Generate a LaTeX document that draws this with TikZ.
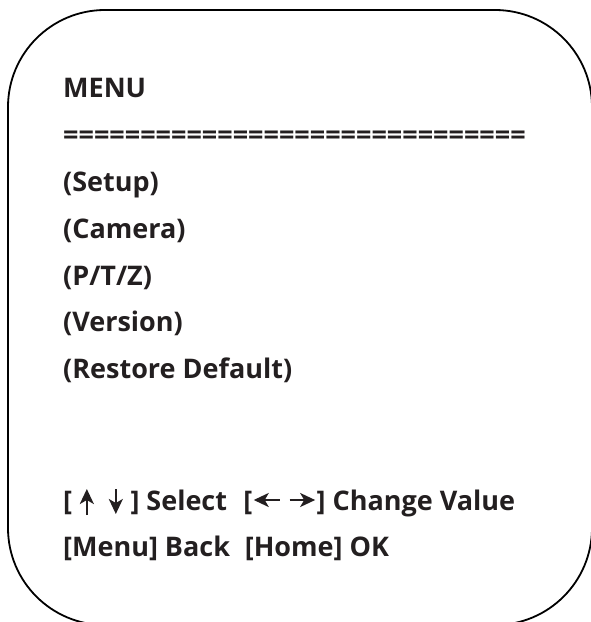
\documentclass[tikz,border=0pt]{standalone}
\usepackage{fontspec}
\setmainfont{Open Sans}
\usetikzlibrary{calc,arrows.meta}
\definecolor{ink}{HTML}{231F20}
\tikzset{
  menutext/.style={anchor=base west, inner sep=0pt, text=ink,
    font=\fontsize{27}{31}\selectfont\bfseries},
  keyarrow/.style={draw=ink, line width=2.2pt,
    -{Stealth[length=15pt,width=14pt,inset=4pt]}}
}
\begin{document}
\begin{tikzpicture}[x=1pt,y=-1pt]
  \useasboundingbox (0,0) rectangle (591,622);
  \clip (0,0) rectangle (591,622);
  % screen frame
  \draw[line width=1.8pt, rounded corners=97pt] (8,10) rectangle (592,625);
  % menu entries
  \node[menutext] (title) at (63,97) {MENU};
  \node[menutext] (rule) at (63,144) {==============================};
  \node[menutext] (setup) at (63,191.5) {(Setup)};
  \node[menutext] (camera) at (63,238) {(Camera)};
  \node[menutext] (ptz) at (63,285) {(P/T/Z)};
  \node[menutext] (version) at (63,331.5) {(Version)};
  \node[menutext] (restore) at (63,378) {(Restore Default)};
  % key help, first line
  \node[menutext] (lb1) at (63,510) {[};
  \node[menutext] (sel) at ($(lb1.base east)+(58,0)$) {] Select\hspace{0.6em}[};
  \node[menutext] (chg) at ($(sel.base east)+(64,0)$) {] Change Value};
  \coordinate (upx) at ($(lb1.base east)!0.25!(sel.base west)$);
  \coordinate (dnx) at ($(lb1.base east)!0.75!(sel.base west)$);
  \draw[keyarrow] ($(upx)+(0,5)$) -- ($(upx)+(0,-21)$);
  \draw[keyarrow] ($(dnx)+(0,-21)$) -- ($(dnx)+(0,4)$);
  \coordinate (lfx) at ($(sel.base east)!0.02!(chg.base west)$);
  \coordinate (rtx) at ($(sel.base east)!0.98!(chg.base west)$);
  \draw[keyarrow] ($(sel.base east)!0.43!(chg.base west)+(0,-10)$) -- ($(lfx)+(0,-10)$);
  \draw[keyarrow] ($(sel.base east)!0.58!(chg.base west)+(0,-10)$) -- ($(rtx)+(0,-10)$);
  % key help, second line
  \node[menutext] (back) at (63,556) {[Menu] Back\hspace{0.55em}[Home] OK};
\end{tikzpicture}
\end{document}
